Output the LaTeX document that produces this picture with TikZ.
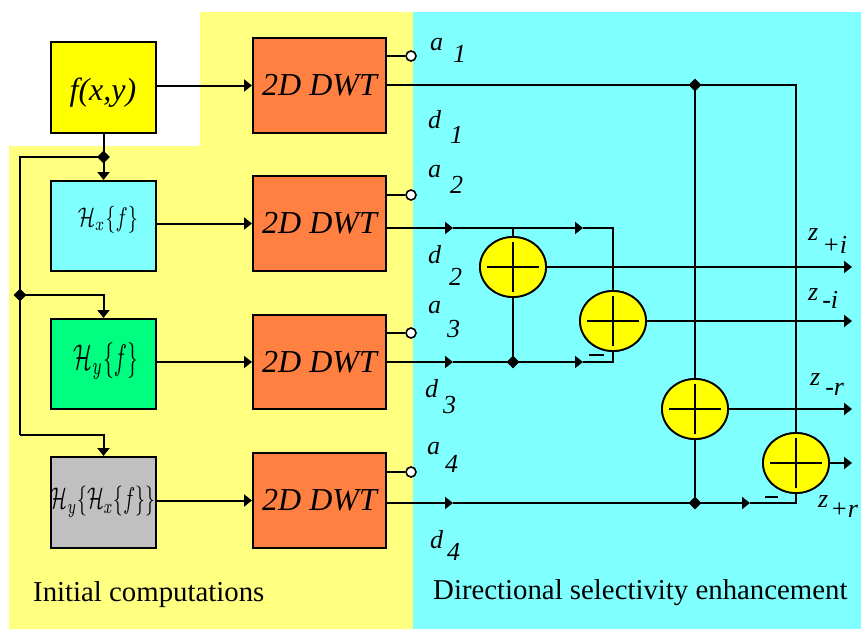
\documentclass[tikz,border=0pt]{standalone}
\usepackage{fontspec}
\setmainfont{Liberation Serif}
\usetikzlibrary{arrows.meta,shapes.geometric}
\definecolor{bgyellow}{HTML}{FFFF80}
\definecolor{bgcyan}{HTML}{80FFFF}
\definecolor{boxyellow}{HTML}{FFFF00}
\definecolor{boxgreen}{HTML}{00FF80}
\definecolor{boxgray}{HTML}{C0C0C0}
\definecolor{boxorange}{HTML}{FF8040}
\newcommand{\fs}[1]{\fontsize{#1}{#1}\selectfont}
\newcommand{\plusin}[1]{\draw[line width=1.8pt] ([xshift=-26pt]#1.center) -- ([xshift=26pt]#1.center) ([yshift=-25pt]#1.center) -- ([yshift=25pt]#1.center);}
\begin{document}
\begin{tikzpicture}[x=1pt,y=-1pt,
  conn/.style={line width=2pt},
  arr/.style={conn,-{Triangle[length=8pt,width=12pt]}},
  blk/.style={draw, line width=2pt, inner sep=0pt},
  dwtbox/.style={blk, fill=boxorange, minimum width=133pt, minimum height=95pt, font=\fs{32}\itshape},
  leftbox/.style={blk, minimum width=105pt, minimum height=90pt},
  adder/.style={ellipse, draw, line width=1.8pt, fill=boxyellow, minimum width=66pt, minimum height=60pt, inner sep=0pt},
  jdot/.style={diamond, fill=black, inner sep=0pt, minimum size=13pt},
  odot/.style={circle, draw, line width=1.6pt, fill=white, inner sep=0pt, minimum size=10pt},
  lab/.style={font=\fs{26}\itshape, inner sep=0pt, anchor=base west},
  captxt/.style={font=\fs{28.8}, inner sep=0pt, anchor=base west},
  txt/.style={inner sep=0pt}
]
\useasboundingbox (0,0) rectangle (861,629);
\clip (0,0) rectangle (861,629);
% backgrounds
\fill[white] (0,0) rectangle (861,629);
\fill[bgyellow] (200,12) -- (413,12) -- (413,629) -- (9,629) -- (9,146) -- (200,146) -- cycle;
\fill[bgcyan] (413,12) rectangle (861,629);

% left boxes
\node[leftbox, fill=boxyellow, minimum height=91pt] (f) at (103.5,87.5) {};
\node[leftbox, fill=bgcyan] (hx) at (103.5,226) {};
\node[leftbox, fill=boxgreen] (hy) at (103.5,364) {};
\node[leftbox, fill=boxgray, minimum height=91pt] (hyx) at (103.5,502.5) {};
\node[txt, font=\fs{32}\itshape] (ft) at (103,92.5) {f(x,y)};
\node[txt] (hxt) at (108,220) {\resizebox*{60pt}{27pt}{$\boldmath\mathcal{H}_x\{f\}$}};
\node[txt] (hyt) at (106,361) {\resizebox*{64pt}{37pt}{$\mathcal{H}_y\{f\}$}};
\node[txt] (hyxt) at (103,502) {\resizebox*{104pt}{31pt}{$\mathcal{H}_y\{\mathcal{H}_x\{f\}\}$}};

% DWT boxes
\node[dwtbox] (w1) at (319.5,85.5) {2D DWT};
\node[dwtbox] (w2) at (319.5,223.5) {2D DWT};
\node[dwtbox, minimum height=94pt] (w3) at (319.5,362) {2D DWT};
\node[dwtbox] (w4) at (319.5,500.5) {2D DWT};

% input arrows
\draw[arr] (f.east |- w1.west) -- (w1.west);
\draw[arr] (hx.east |- w2.west) -- (w2.west);
\draw[arr] (hy.east |- w3.west) -- (w3.west);
\draw[arr] (hyx.east |- w4.west) -- (w4.west);

% distribution network on the left
\coordinate (j1) at (103.5,157);
\coordinate (c1) at (20,157);
\coordinate (j2) at (20,295);
\coordinate (c3) at (20,435);
\draw[conn] (f.south) -- (j1);
\draw[arr] (j1) -- (hx.north);
\draw[conn] (j1) -- (c1) -- (j2) -- (c3);
\draw[arr] (j2) -| (hy.north);
\draw[arr] (c3) -| (hyx.north);
\node[jdot] (dj1) at (j1) {};
\node[jdot] (dj2) at (j2) {};

% approximation outputs
\node[odot] (ca1) at (411,56) {};
\node[odot] (ca2) at (411,195) {};
\node[odot] (ca3) at (411,333) {};
\node[odot] (ca4) at (411,472) {};
\draw[conn] (w1.east |- ca1) -- (ca1);
\draw[conn] (w2.east |- ca2) -- (ca2);
\draw[conn] (w3.east |- ca3) -- (ca3);
\draw[conn] (w4.east |- ca4) -- (ca4);

% adders
\node[adder] (s1) at (513,267) {};
\node[adder] (s2) at (613,321) {};
\node[adder] (s3) at (695,409) {};
\node[adder] (s4) at (796,463) {};

% detail lines
\coordinate (o1) at (386,85);
\coordinate (p1) at (695,85);
\coordinate (q1) at (796,85);
\coordinate (o2) at (386,228);
\coordinate (m21) at (453,228);
\coordinate (k2) at (513,228);
\coordinate (m22) at (583,228);
\coordinate (r2) at (613,228);
\coordinate (o3) at (386,362);
\coordinate (m31) at (453,362);
\coordinate (k3) at (513,362);
\coordinate (m32) at (583,362);
\coordinate (r3) at (613,362);
\coordinate (o4) at (386,503);
\coordinate (m41) at (453,503);
\coordinate (k4) at (695,503);
\coordinate (m42) at (750,503);
\coordinate (r4) at (796,503);

\draw[conn] (o1) -- (p1) -- (q1) -- (s4.north);
\draw[conn] (p1) -- (s3.north);
\draw[arr] (o2) -- (m21);
\draw[conn] (m21) -- (k2) -- (s1.north);
\draw[arr] (k2) -- (m22);
\draw[conn] (m22) -- (r2) -- (s2.north);
\draw[arr] (o3) -- (m31);
\draw[conn] (m31) -- (k3) -- (s1.south);
\draw[arr] (k3) -- (m32);
\draw[conn] (m32) -- (r3) -- (s2.south);
\draw[arr] (o4) -- (m41);
\draw[conn] (m41) -- (k4) -- (s3.south);
\draw[arr] (k4) -- (m42);
\draw[conn] (m42) -- (r4) -- (s4.south);
\node[jdot] (dp1) at (p1) {};
\node[jdot] (dk3) at (k3) {};
\node[jdot] (dk4) at (k4) {};

% redraw adders on top of crossing lines
\node[adder] at (s1) {};
\node[adder] at (s2) {};
\node[adder] at (s3) {};
\node[adder] at (s4) {};
\plusin{s1}
\plusin{s2}
\plusin{s3}
\plusin{s4}

% outputs
\coordinate (e1) at (852,267);
\coordinate (e2) at (852,321);
\coordinate (e3) at (852,409);
\coordinate (e4) at (852,463);
\draw[arr] (s1.east) -- (e1);
\draw[arr] (s2.east) -- (e2);
\draw[arr] (s3.east) -- (e3);
\draw[arr] (s4.east) -- (e4);

% minus signs
\draw[line width=1.6pt] (589,355) -- (604,355);
\draw[line width=1.6pt] (765,497) -- (778,497);

% labels
\node[lab] (la1) at (430,50) {a\kern10pt\raisebox{-12pt}{1}};
\node[lab] (ld1) at (428,128) {d\kern9pt\raisebox{-15pt}{1}};
\node[lab] (la2) at (428,177) {a\kern9pt\raisebox{-16pt}{2}};
\node[lab] (ld2) at (428,263) {d\kern8pt\raisebox{-22pt}{2}};
\node[lab] (la3) at (428,313) {a\kern6pt\raisebox{-24pt}{3}};
\node[lab] (ld3) at (425,397) {d\kern5pt\raisebox{-16pt}{3}};
\node[lab] (la4) at (427,454) {a\kern5pt\raisebox{-18pt}{4}};
\node[lab] (ld4) at (430,548) {d\kern4pt\raisebox{-12pt}{4}};
\node[lab] (zpi) at (808,240) {z\kern4pt\raisebox{-13pt}{+i}};
\node[lab] (zmi) at (808,300) {z\kern4pt\raisebox{-8pt}{-i}};
\node[lab] (zmr) at (810,385) {z\kern5pt\raisebox{-10pt}{-r}};
\node[lab] (zpr) at (818,507) {z\kern2pt\raisebox{-10pt}{+r}};

% captions
\node[captxt] (cap1) at (33,601) {Initial computations};
\node[captxt] (cap2) at (433,599) {Directional selectivity enhancement};
\end{tikzpicture}
\end{document}
